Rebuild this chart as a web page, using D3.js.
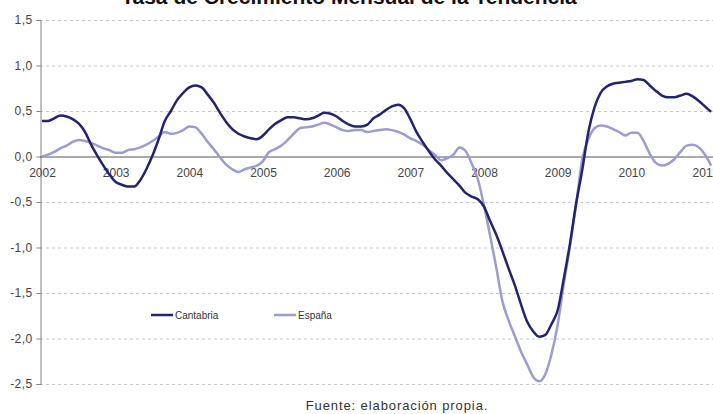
<!DOCTYPE html>
<html>
<head>
<meta charset="utf-8">
<script src="https://cdn.jsdelivr.net/npm/d3@7"></script>
<style>
  body { margin: 0; background: #fff; }
  svg { display: block; font-family: "Liberation Sans", Arial, sans-serif; }
</style>
</head>
<body>
<script>
// monthly series, Jan 2002 .. Feb 2011
const cantabria = [
  0.39, 0.39, 0.42, 0.45, 0.44, 0.41, 0.36, 0.27, 0.13, 0.01, -0.10, -0.20,
  -0.28, -0.31, -0.33, -0.33, -0.26, -0.14, 0.01, 0.19, 0.39, 0.50, 0.62, 0.70,
  0.76, 0.78, 0.76, 0.68, 0.59, 0.48, 0.38, 0.30, 0.25, 0.22, 0.20, 0.19,
  0.23, 0.30, 0.36, 0.40, 0.43, 0.43, 0.42, 0.41, 0.42, 0.45, 0.48, 0.47,
  0.44, 0.39, 0.35, 0.33, 0.33, 0.35, 0.42, 0.46, 0.51, 0.55, 0.57, 0.53,
  0.41, 0.27, 0.16, 0.06, -0.03, -0.10, -0.18, -0.25, -0.32, -0.40, -0.44, -0.47,
  -0.55, -0.71, -0.86, -1.04, -1.23, -1.41, -1.62, -1.81, -1.92, -1.98, -1.96, -1.84,
  -1.69, -1.34, -0.96, -0.52, -0.15, 0.27, 0.54, 0.70, 0.77, 0.80, 0.81, 0.82,
  0.83, 0.85, 0.84, 0.78, 0.72, 0.67, 0.65, 0.65, 0.67, 0.69, 0.66, 0.61,
  0.55, 0.49
]
const espana = [
  0.00, 0.02, 0.05, 0.09, 0.12, 0.16, 0.18, 0.17, 0.15, 0.12, 0.09, 0.07,
  0.04, 0.04, 0.07, 0.08, 0.10, 0.13, 0.17, 0.22, 0.27, 0.25, 0.26, 0.29,
  0.33, 0.32, 0.25, 0.16, 0.08, -0.01, -0.09, -0.14, -0.17, -0.14, -0.12, -0.10,
  -0.05, 0.05, 0.08, 0.12, 0.18, 0.25, 0.31, 0.32, 0.33, 0.35, 0.37, 0.35,
  0.32, 0.29, 0.28, 0.29, 0.29, 0.27, 0.28, 0.29, 0.30, 0.29, 0.27, 0.24,
  0.20, 0.17, 0.13, 0.07, 0.02, -0.04, -0.02, 0.02, 0.10, 0.06, -0.08, -0.25,
  -0.54, -0.87, -1.22, -1.59, -1.80, -1.97, -2.14, -2.28, -2.42, -2.47, -2.39, -2.17,
  -1.85, -1.40, -0.99, -0.53, -0.03, 0.19, 0.31, 0.34, 0.33, 0.30, 0.27, 0.23,
  0.26, 0.26, 0.17, 0.03, -0.07, -0.10, -0.08, -0.03, 0.05, 0.12, 0.13, 0.10,
  0.02, -0.10
]
const years = [2002, 2003, 2004, 2005, 2006, 2007, 2008, 2009, 2010, 2011]
const yTicks = [1.5, 1.0, 0.5, 0.0, -0.5, -1.0, -1.5, -2.0, -2.5]
const seriesNames = ["Cantabria", "España"]
const seriesColors = ["#23236e", "#9c9cd0"]

const width = 713
const height = 414

const svg = d3.select('body').append('svg')
    .attr('width', width)
    .attr('height', height)

const x = d3.scaleLinear()
    .domain([0, 108])
    .range([42, 705])

const y = d3.scaleLinear()
    .domain([-2.5, 1.5])
    .range([384, 20])

const fmt = v => d3.format(".1f")(v).replace(".", ",").replace("−", "-")

// title, its top is cut by the page edge like in the original
svg.append('text')
    .attr('x', 349)
    .attr('y', 4)
    .attr('text-anchor', 'middle')
    .style('font-size', '21px')
    .style('font-weight', 'bold')
    .attr('fill', '#111')
    .text('Tasa de Crecimiento Mensual de la Tendencia')

// grid
svg.append('g')
    .selectAll('line')
    .data(yTicks.filter(d => d !== 0))
    .join('line')
    .attr('x1', 40)
    .attr('x2', width)
    .attr('y1', d => y(d) + 0.5)
    .attr('y2', d => y(d) + 0.5)
    .attr('stroke', '#c8c8c8')
    .attr('stroke-dasharray', '3,3')

// y axis
const yAxis = svg.append('g')
    .attr('transform', 'translate(40.5,0)')
    .call(d3.axisLeft(y).tickValues(yTicks).tickSize(4).tickPadding(4).tickFormat(fmt))
yAxis.select('.domain').attr('stroke', '#808080')
yAxis.selectAll('.tick line').attr('stroke', '#808080')
yAxis.selectAll('text')
    .style('font-size', '12px')
    .style('letter-spacing', '0.4px')
    .attr('fill', '#444')
    .attr('font-family', null)

// zero line + year labels
svg.append('line')
    .attr('x1', 40)
    .attr('x2', width)
    .attr('y1', y(0) + 0.5)
    .attr('y2', y(0) + 0.5)
    .attr('stroke', '#555')

const xAxis = svg.append('g')
    .attr('transform', `translate(0,${y(0)})`)
    .call(d3.axisBottom(x)
        .tickValues(years.map((d, i) => i * 12))
        .tickSize(0)
        .tickPadding(12)
        .tickFormat((d, i) => years[i]))
xAxis.select('.domain').remove()
xAxis.selectAll('text')
    .style('font-size', '12px')
    .attr('fill', '#444')
    .attr('font-family', null)

// lines
const line = d3.line()
    .x((d, i) => x(i))
    .y(d => y(d))
    .curve(d3.curveMonotoneX)

svg.selectAll('path.serie')
    .data([espana, cantabria])
    .join('path')
    .attr('class', 'serie')
    .attr('d', line)
    .attr('fill', 'none')
    .attr('stroke', (d, i) => i === 0 ? seriesColors[1] : seriesColors[0])
    .attr('stroke-width', 2.5)
    .attr('stroke-linejoin', 'round')

// legend
const legend = svg.append('g')
    .selectAll('g')
    .data(seriesNames)
    .join('g')
    .attr('transform', (d, i) => `translate(${151 + i * 123},315)`)
legend.append('line')
    .attr('x1', 0)
    .attr('x2', 22)
    .attr('stroke', (d, i) => seriesColors[i])
    .attr('stroke-width', 2.5)
legend.append('text')
    .attr('x', 24)
    .attr('y', 3.5)
    .style('font-size', '10px')
    .attr('fill', '#333')
    .text(d => d)

// source
svg.append('text')
    .attr('x', 397)
    .attr('y', 410)
    .attr('text-anchor', 'middle')
    .style('font-size', '13px')
    .style('letter-spacing', '0.9px')
    .attr('fill', '#333')
    .text('Fuente: elaboración propia.')
</script>
</body>
</html>
